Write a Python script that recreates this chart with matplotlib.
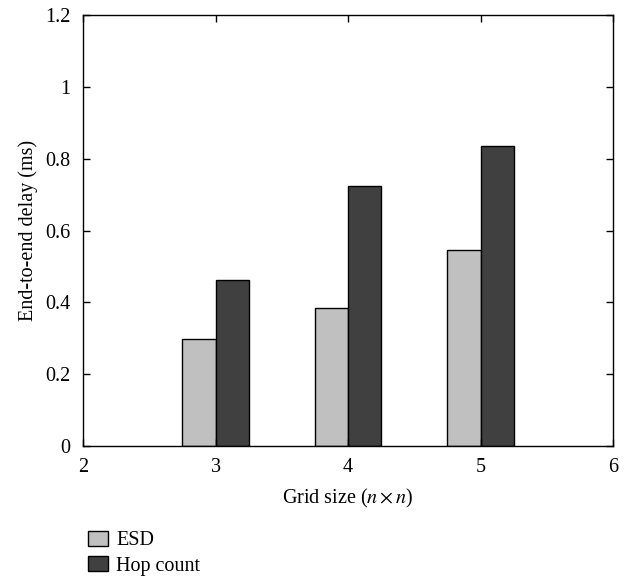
import numpy as np
import matplotlib
matplotlib.use("Agg")
import matplotlib.pyplot as plt

plt.rcParams['font.family'] = ['Liberation Serif', 'DejaVu Serif']
plt.rcParams['mathtext.fontset'] = 'stix'
plt.rcParams['font.size'] = 14.5

grid_sizes = [3, 4, 5]
esd_delay = [0.298, 0.383, 0.545]
hop_delay = [0.463, 0.725, 0.836]
series_names = ["ESD", "Hop count"]

bar_w = 0.25
x = np.array(grid_sizes, dtype=float)

fig = plt.figure(figsize=(6.24, 5.79), dpi=100)
ax = fig.add_axes([83 / 624, 1 - 446 / 579, 530 / 624, 431 / 579])

ax.bar(x - bar_w / 2, esd_delay, bar_w, color='#c0c0c0', edgecolor='black',
       linewidth=1.0, label=series_names[0])
ax.bar(x + bar_w / 2, hop_delay, bar_w, color='#404040', edgecolor='black',
       linewidth=1.0, label=series_names[1])

ax.set_xlim(2, 6)
ax.set_ylim(0, 1.2)
ax.set_xticks([2, 3, 4, 5, 6])
ax.set_yticks([0, 0.2, 0.4, 0.6, 0.8, 1, 1.2])
ax.set_yticklabels(['0', '0.2', '0.4', '0.6', '0.8', '1', '1.2'])
ax.tick_params(direction='in', top=True, right=True, length=5, width=1, pad=9)
for s in ax.spines.values():
    s.set_linewidth(1.0)

ax.set_xlabel(r"Grid size ($n \times n$)", labelpad=7)
ax.set_ylabel("End-to-end delay (ms)", labelpad=5)

fig.legend(loc='upper left', bbox_to_anchor=(80 / 624, 1 - 523 / 579),
           frameon=False, handlelength=1.0, handleheight=0.75,
           handletextpad=0.4, labelspacing=0.3, borderaxespad=0)

fig.savefig("out.png", dpi=100)
